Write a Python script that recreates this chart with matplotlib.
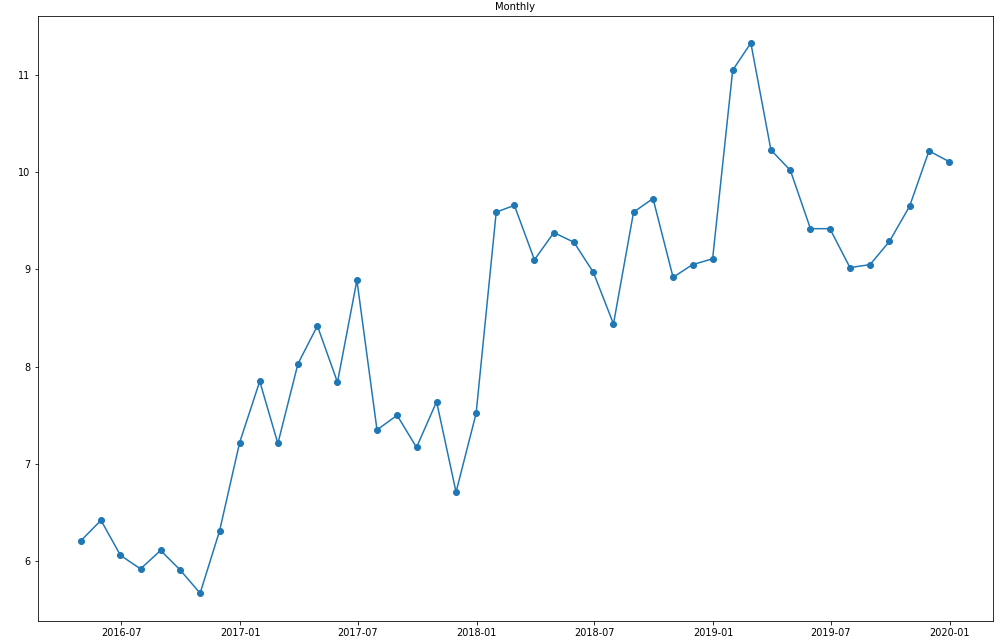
import pandas as pd
import matplotlib.pyplot as plt
import matplotlib.dates as mdates

dates = pd.date_range('2016-04-30', periods=45, freq='ME')
values = [
    6.21, 6.42, 6.06, 5.92, 6.11, 5.91, 5.67, 6.31,
    7.22, 7.85, 7.21, 8.03, 8.42, 7.84, 8.89, 7.35, 7.50, 7.17, 7.64, 6.71,
    7.52, 9.59, 9.66, 9.10, 9.38, 9.28, 8.97, 8.44, 9.59, 9.73, 8.92, 9.05,
    9.11, 11.05, 11.33, 10.23, 10.02, 9.42, 9.42, 9.02, 9.05, 9.29, 9.65, 10.22,
    10.11,
]

def plot_monthly(dates, values, file_name):
    fig = plt.figure(figsize=(1004 / 72, 641 / 72), dpi=72)
    ax = fig.add_axes([37.5 / 1004, 1 - 620.7 / 641, (992.5 - 37.5) / 1004, (620.7 - 15.5) / 641])
    ax.plot(dates, values, marker='o', color='tab:blue')
    ax.set_title('Monthly', fontsize=10)
    ax.tick_params(labelsize=9.7)
    ax.xaxis.set_major_locator(mdates.MonthLocator(bymonth=[1, 7]))
    ax.xaxis.set_major_formatter(mdates.DateFormatter('%Y-%m'))
    fig.savefig(file_name, dpi=72)
    plt.close(fig)

plot_monthly(dates, values, 'out.png')
